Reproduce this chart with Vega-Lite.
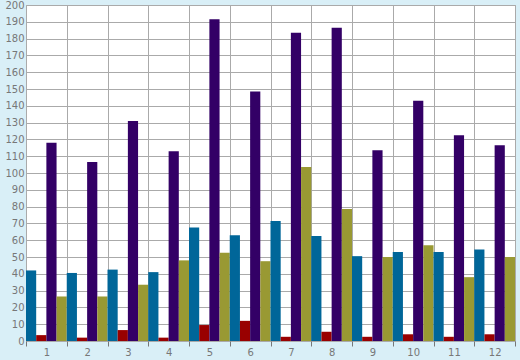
{
  "$schema": "https://vega.github.io/schema/vega-lite/v6.json",
  "width": 489,
  "height": 336,
  "autosize": {"type": "none"},
  "padding": {"left": 26, "top": 5, "right": 5, "bottom": 19},
  "background": "#d9eff7",
  "config": {
    "view": {"fill": "white", "stroke": "#aaaaaa", "strokeWidth": 1},
    "axis": {"labelFont": "DejaVu Sans", "labelFontSize": 10, "labelColor": "#777777", "gridColor": "#aaaaaa", "gridWidth": 1, "gridOpacity": 1, "domain": false}
  },
  "data": {
    "values": [
      {"cat": "1", "s": "A", "v": 42}, {"cat": "1", "s": "B", "v": 3.5}, {"cat": "1", "s": "C", "v": 118}, {"cat": "1", "s": "D", "v": 26.5},
      {"cat": "2", "s": "A", "v": 40.5}, {"cat": "2", "s": "B", "v": 2}, {"cat": "2", "s": "C", "v": 106.5}, {"cat": "2", "s": "D", "v": 26.5},
      {"cat": "3", "s": "A", "v": 42.5}, {"cat": "3", "s": "B", "v": 6.5}, {"cat": "3", "s": "C", "v": 131}, {"cat": "3", "s": "D", "v": 33.5},
      {"cat": "4", "s": "A", "v": 41}, {"cat": "4", "s": "B", "v": 2}, {"cat": "4", "s": "C", "v": 113}, {"cat": "4", "s": "D", "v": 48},
      {"cat": "5", "s": "A", "v": 67.5}, {"cat": "5", "s": "B", "v": 9.5}, {"cat": "5", "s": "C", "v": 191.5}, {"cat": "5", "s": "D", "v": 52.5},
      {"cat": "6", "s": "A", "v": 63}, {"cat": "6", "s": "B", "v": 12}, {"cat": "6", "s": "C", "v": 148.5}, {"cat": "6", "s": "D", "v": 47.5},
      {"cat": "7", "s": "A", "v": 71.5}, {"cat": "7", "s": "B", "v": 2.5}, {"cat": "7", "s": "C", "v": 183.5}, {"cat": "7", "s": "D", "v": 103.5},
      {"cat": "8", "s": "A", "v": 62.5}, {"cat": "8", "s": "B", "v": 5.5}, {"cat": "8", "s": "C", "v": 186.5}, {"cat": "8", "s": "D", "v": 78.5},
      {"cat": "9", "s": "A", "v": 50.5}, {"cat": "9", "s": "B", "v": 2.5}, {"cat": "9", "s": "C", "v": 113.5}, {"cat": "9", "s": "D", "v": 50},
      {"cat": "10", "s": "A", "v": 53}, {"cat": "10", "s": "B", "v": 4}, {"cat": "10", "s": "C", "v": 143}, {"cat": "10", "s": "D", "v": 57},
      {"cat": "11", "s": "A", "v": 53}, {"cat": "11", "s": "B", "v": 2.5}, {"cat": "11", "s": "C", "v": 122.5}, {"cat": "11", "s": "D", "v": 38},
      {"cat": "12", "s": "A", "v": 54.5}, {"cat": "12", "s": "B", "v": 4}, {"cat": "12", "s": "C", "v": 116.5}, {"cat": "12", "s": "D", "v": 50}
    ]
  },
  "mark": {"type": "bar"},
  "encoding": {
    "x": {
      "field": "cat", "type": "nominal", "sort": null,
      "scale": {"paddingInner": 0, "paddingOuter": 0},
      "axis": {"title": null, "labelAngle": 0, "tickBand": "extent", "ticks": true, "tickSize": 5, "tickColor": "#777777", "labelPadding": 1, "grid": true}
    },
    "xOffset": {"field": "s", "type": "nominal", "sort": ["A", "B", "C", "D"], "scale": {"paddingInner": 0, "paddingOuter": 0}},
    "y": {
      "field": "v", "type": "quantitative",
      "scale": {"domain": [0, 200], "nice": false},
      "axis": {"title": null, "values": [0,10,20,30,40,50,60,70,80,90,100,110,120,130,140,150,160,170,180,190,200], "ticks": false, "labelPadding": 2, "grid": true}
    },
    "color": {
      "field": "s", "type": "nominal", "legend": null,
      "scale": {"domain": ["A", "B", "C", "D"], "range": ["#006699", "#990000", "#330066", "#999933"]}
    }
  }
}
